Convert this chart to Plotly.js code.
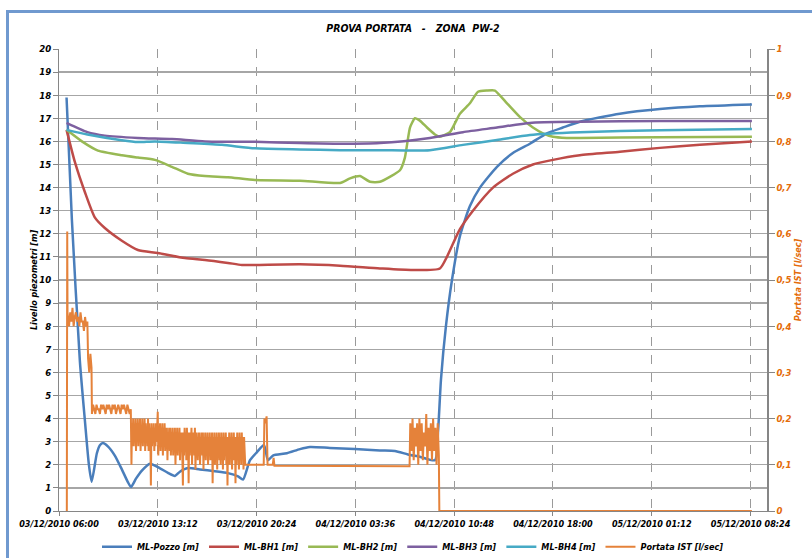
<!DOCTYPE html>
<html>
<head>
<meta charset="utf-8">
<script src="https://cdn.plot.ly/plotly-3.0.1.min.js"></script>
<style>
  html, body { margin:0; padding:0; background:#fff; }
  #wrap { position:relative; width:812px; height:558px; overflow:hidden; }
  #chart { position:absolute; left:0; top:0; width:812px; height:558px; }
  #frame { position:absolute; left:6px; top:10px; width:900px; height:900px;
           border-left:3px solid #7099CF; border-top:3px solid #7099CF; pointer-events:none; }
</style>
</head>
<body>
<div id="wrap"><div id="chart"></div><div id="frame"></div></div>
<script>
// ---- data (hours after 03/12/2010 06:00) ----
const pozzoH = [0.55,0.94,1.52,1.89,2.18,2.38,2.76,2.98,3.20,3.56,4.07,4.58,5.02,5.25,5.61,6.04,6.63,7.36,7.94,8.45,8.81,9.39,10.27,11.36,12.31,13.05,13.41,13.92,14.43,14.94,15.23,15.59,16.61,17.56,18.29,19.74,21.57,23.39,24.48,25.43,26.30,27.40,27.62,27.84,28.20,28.64,29.22,29.95,30.68,31.92,33.08,34.32,35.56,36.72,37.96,40.88,43.79,46.71,50.50];
const pozzoV = [17.9,12.6,6.5,3.9,2.0,1.27,2.5,2.85,2.94,2.8,2.4,1.8,1.25,1.04,1.4,1.75,2.05,1.85,1.65,1.52,1.7,1.86,1.8,1.72,1.64,1.5,1.36,2.2,2.55,2.86,2.2,2.4,2.5,2.68,2.77,2.73,2.68,2.62,2.6,2.45,2.35,2.2,3.4,5.7,8.0,10.0,11.9,13.2,14.0,14.9,15.5,15.9,16.35,16.6,16.85,17.2,17.4,17.52,17.6];

const bh1H = [0.55,1.16,1.89,2.62,3.34,4.58,5.75,7.20,9.18,10.64,12.31,13.33,14.28,17.56,20.48,23.39,25.80,27.76,28.27,29.22,30.17,31.63,33.08,34.54,36.00,37.96,40.88,43.79,46.71,50.50];
const bh1V = [16.5,15.1,13.8,12.7,12.25,11.7,11.3,11.17,10.95,10.87,10.74,10.65,10.65,10.68,10.62,10.5,10.43,10.5,11.0,12.2,13.0,14.0,14.6,15.0,15.2,15.4,15.55,15.72,15.85,16.0];

const bh2H = [0.55,1.67,2.84,4.58,5.75,6.99,8.23,9.39,10.64,12.31,14.28,17.56,20.48,21.21,21.94,22.67,23.39,24.85,25.21,25.58,25.94,26.30,26.82,27.40,27.76,28.49,29.22,29.95,30.54,31.19,31.77,32.65,33.60,34.54,35.27,36.00,37.00,37.96,43.79,50.50];
const bh2V = [16.5,16.0,15.6,15.4,15.3,15.2,14.9,14.6,14.5,14.45,14.33,14.3,14.2,14.4,14.5,14.25,14.25,14.75,15.3,16.6,17.0,16.9,16.6,16.3,16.2,16.4,17.2,17.65,18.15,18.2,18.2,17.65,17.05,16.6,16.35,16.2,16.15,16.15,16.18,16.2];

const bh3H = [0.55,2.07,3.34,5.75,8.23,10.64,14.28,17.56,20.48,23.39,27.03,29.44,31.92,34.32,37.96,43.79,50.50];
const bh3V = [16.8,16.4,16.25,16.15,16.1,16.0,15.98,15.93,15.9,15.93,16.15,16.4,16.6,16.8,16.85,16.88,16.88];

const bh4H = [0.55,2.07,4.58,5.75,6.99,9.39,11.88,14.28,17.56,20.48,23.39,27.03,29.44,31.92,34.32,37.96,43.79,50.50];
const bh4V = [16.5,16.3,16.05,15.97,16.0,15.93,15.85,15.7,15.65,15.62,15.62,15.62,15.85,16.06,16.28,16.4,16.48,16.54];

// Portata IST: sparse points + sampled stretches
const portataStartH = [0.57,0.60,0.62];
const portataStartV = [0,0.605,0.43];
const portataA0 = 0.65;   // 5-minute samples
const portataA = [0.42,0.40,0.43,0.41,0.44,0.40,0.42,0.43,0.41,0.42,0.40,0.43,0.41,0.41,0.39,0.42,0.40,0.41];
const portataB0 = 2.12;   // 5-minute samples
const portataB = [0.33,0.30,0.34,0.31];
const portataC0 = 2.40;   // 5-minute samples
const portataC = [0.21,0.23,0.22,0.21,0.23,0.22,0.22,0.21,0.23,0.22,0.23,0.22,0.21,0.23,0.22,0.23,0.22,0.21,0.23,0.22,0.23,0.21,0.22,0.23,0.22,0.21,0.23,0.22,0.23,0.22,0.21,0.23,0.22,0.21,0.22];
const portataD0 = 5.28;   // 2.5-minute samples
const portataD = [
  0.10,0.19,0.15,0.20,0.14,0.18,0.16,0.20,0.13,0.19,
  0.15,0.20,0.14,0.19,0.16,0.20,0.13,0.18,0.15,0.20,
  0.14,0.19,0.16,0.20,0.13,0.19,0.15,0.18,0.14,0.20,
  0.13,0.19,0.15,0.18,0.055,0.19,0.14,0.18,0.15,0.19,
  0.13,0.18,0.14,0.19,0.15,0.18,0.215,0.12,0.18,0.14,
  0.19,0.13,0.18,0.15,0.19,0.12,0.18,0.14,0.19,0.13,
  0.18,0.15,0.18,0.11,0.17,0.14,0.18,0.13,0.18,0.12,
  0.17,0.14,0.18,0.12,0.17,0.13,0.18,0.10,0.17,0.14,
  0.18,0.12,0.17,0.13,0.18,0.11,0.17,0.14,0.17,0.12,
  0.055,0.17,0.12,0.18,0.13,0.17,0.11,0.18,0.13,0.17,
  0.06,0.17,0.12,0.17,0.14,0.18,0.10,0.17,0.13,0.17,
  0.12,0.18,0.09,0.17,0.13,0.16,0.11,0.17,0.13,0.17,
  0.10,0.16,0.13,0.17,0.12,0.17,0.09,0.16,0.12,0.17,
  0.11,0.16,0.13,0.17,0.10,0.16,0.12,0.17,0.11,0.16,
  0.12,0.17,0.06,0.16,0.11,0.17,0.10,0.16,0.12,0.17,
  0.09,0.16,0.12,0.17,0.11,0.16,0.10,0.17,0.12,0.16,
  0.09,0.17,0.11,0.16,0.12,0.17,0.10,0.16,0.055,0.16,
  0.11,0.17,0.10,0.16,0.12,0.17,0.09,0.16,0.11,0.17,
  0.12,0.16,0.06,0.16,0.10,0.17,0.11,0.16,0.09,0.17,
  0.11,0.16,0.10,0.17,0.12,0.16,0.09,0.16,0.11,0.10];
const portataMidH = [13.62,14.92,14.97,15.05,15.13,15.20,15.58,15.64,15.70,20.0,25.55];
const portataMidV = [0.10,0.10,0.20,0.19,0.205,0.10,0.10,0.115,0.098,0.098,0.097];
const portataF0 = 25.60;  // 5-minute samples
const portataF = [0.19,0.13,0.20,0.11,0.18,0.14,0.19,0.10,0.20,0.13,0.19,0.11,0.17,0.14,0.21,0.10,0.18,0.13,0.19,0.11,0.20,0.13,0.18,0.10,0.19,0.12];
const portataEndH = [27.72,50.50];
const portataEndV = [0,0];

const seriesNames = ['ML-Pozzo [m]','ML-BH1 [m]','ML-BH2 [m]','ML-BH3 [m]','ML-BH4 [m]','Portata IST [l/sec]'];
const chartTitle = 'PROVA PORTATA\u00a0\u00a0\u00a0-\u00a0\u00a0\u00a0ZONA\u00a0\u00a0PW-2';
const yTitle = 'Livello piezometri [m]';
const y2Title = 'Portata IST [l/sec]';

// ---- helpers ----
const BASE = Date.UTC(2010, 11, 3, 6, 0);
function hx(h) { return new Date(BASE + Math.round(h * 3600000)).toISOString().slice(0, 19).replace('T', ' '); }
const pH = [], pV = [];
function addPts(hs, vs) { hs.forEach((h, i) => { pH.push(h); pV.push(vs[i]); }); }
function addSeg(h0, step, vs) { vs.forEach((v, i) => { pH.push(h0 + i * step); pV.push(v); }); }
addPts(portataStartH, portataStartV);
addSeg(portataA0, 1 / 12, portataA);
addSeg(portataB0, 1 / 12, portataB);
addSeg(portataC0, 1 / 12, portataC);
addSeg(portataD0, 1 / 24, portataD);
addPts(portataMidH, portataMidV);
addSeg(portataF0, 1 / 12, portataF);
addPts(portataEndH, portataEndV);

const colors = ['#4A7EBB','#BE4B48','#98B954','#7D60A0','#46AAC5','#E5823A'];
const FONT = 'DejaVu Sans Condensed, Liberation Sans Narrow, sans-serif';
const fnt = (size, color) => ({ family: FONT, size: size, color: color || '#000', weight: 'bold', style: 'italic' });

function tr(hs, vs, i, extra) {
  return Object.assign({
    x: hs.map(hx), y: vs, name: seriesNames[i], type: 'scatter', mode: 'lines',
    line: { color: colors[i], width: 2.5 }
  }, extra || {});
}

const data = [
  tr(pozzoH, pozzoV, 0, { line: { color: colors[0], width: 2.5, shape: 'spline', smoothing: 0.6 } }),
  tr(bh1H, bh1V, 1, { line: { color: colors[1], width: 2.5, shape: 'spline', smoothing: 0.6 } }),
  tr(bh2H, bh2V, 2, { line: { color: colors[2], width: 2.5, shape: 'spline', smoothing: 0.5 } }),
  tr(bh3H, bh3V, 3, { line: { color: colors[3], width: 2.5, shape: 'spline', smoothing: 0.6 } }),
  tr(bh4H, bh4V, 4, { line: { color: colors[4], width: 2.5, shape: 'spline', smoothing: 0.6 } }),
  tr(pH, pV, 5, { yaxis: 'y2', line: { color: colors[5], width: 2 } })
];

const layout = {
  width: 812, height: 558,
  margin: { l: 59, r: 45, t: 49, b: 47 },
  paper_bgcolor: '#ffffff', plot_bgcolor: '#ffffff',
  separators: ',.',
  font: fnt(9),
  title: { text: chartTitle, x: 0.5, xref: 'paper', xanchor: 'center', y: 0.95, yanchor: 'middle',
           font: fnt(10.5) },
  showlegend: true,
  legend: { orientation: 'h', x: 0.5, xanchor: 'center', yref: 'container', y: 0.02, yanchor: 'middle',
            font: fnt(9), itemwidth: 30, traceorder: 'normal', bgcolor: 'rgba(0,0,0,0)' },
  xaxis: {
    type: 'date',
    range: [hx(0), hx(51.6)],
    tick0: hx(0), dtick: 7.2 * 3600000,
    tickformat: '%d/%m/%Y %H:%M',
    showgrid: true, gridcolor: '#9A9A9A', griddash: 'dash', gridwidth: 1,
    showline: true, linecolor: '#868686', linewidth: 1,
    ticks: 'outside', ticklen: 4, tickcolor: '#868686',
    tickfont: fnt(9),
    zeroline: false, fixedrange: true
  },
  yaxis: {
    range: [0, 20], dtick: 1, tick0: 0,
    showgrid: true, gridcolor: '#A6A6A6', gridwidth: 1.3,
    showline: true, linecolor: '#868686', linewidth: 1,
    ticks: 'outside', ticklen: 5, tickcolor: '#868686',
    tickfont: fnt(9.5),
    title: { text: yTitle, standoff: 0, font: fnt(9) },
    zeroline: false, fixedrange: true
  },
  yaxis2: {
    overlaying: 'y', side: 'right',
    range: [0, 1], dtick: 0.1, tick0: 0,
    showgrid: false,
    showline: true, linecolor: '#868686', linewidth: 1.5,
    ticks: 'outside', ticklen: 6, tickcolor: '#868686',
    tickfont: fnt(9.5, '#E46C0A'),
    title: { text: y2Title, standoff: 4, font: fnt(9, '#E46C0A') },
    zeroline: false, fixedrange: true
  }
};

Plotly.newPlot('chart', data, layout, { staticPlot: true, displayModeBar: false });
</script>
</body>
</html>
